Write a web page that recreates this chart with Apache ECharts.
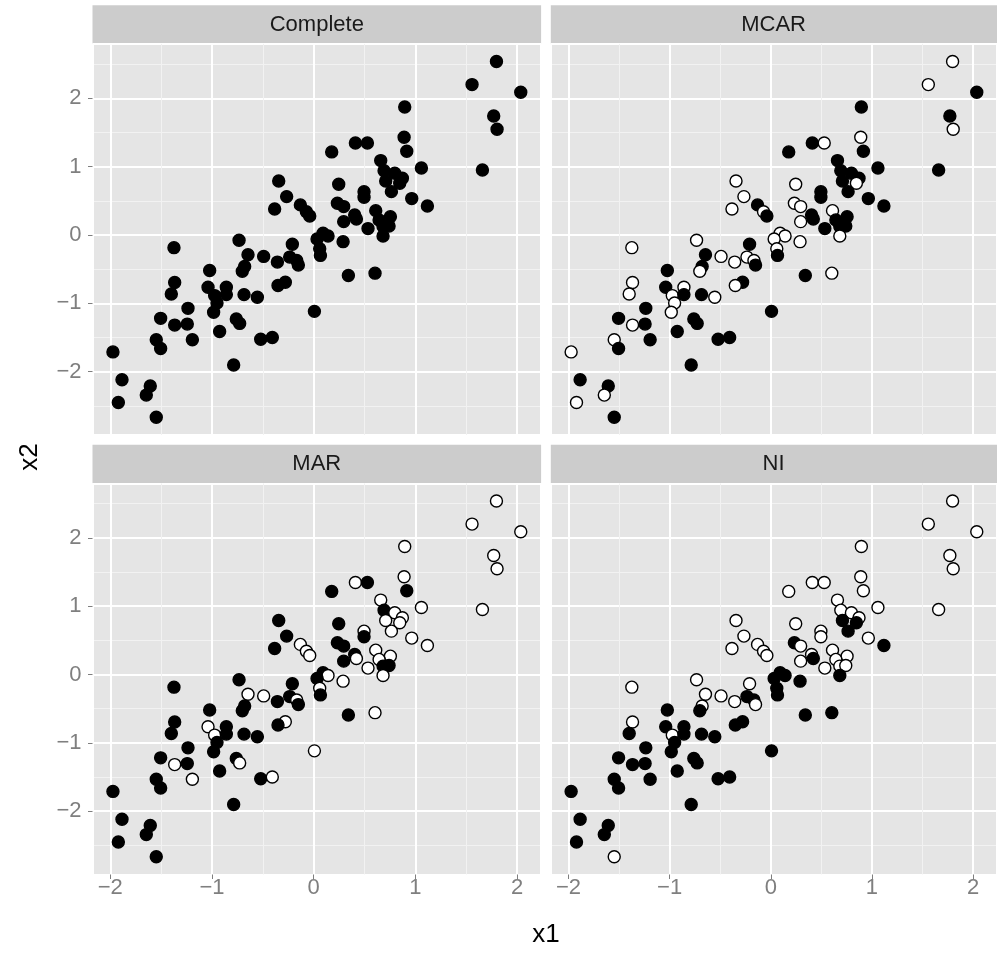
<!DOCTYPE html>
<html>
<head>
<meta charset="utf-8">
<script src="https://cdn.jsdelivr.net/npm/echarts@6/dist/echarts.min.js"></script>
<style>
  html, body { margin: 0; padding: 0; background: #fff; }
  #chart { width: 997px; height: 955px; }
</style>
</head>
<body>
<div id="chart"></div>
<script>
// same x1 / x2 sample in every panel
var x1 = [
  -0.344, -0.266, -0.384, -0.131, -0.072, -0.039,
  1.797, 1.557, 2.036, 1.770, 1.803, 1.659, 0.895, 0.889, 0.915, 1.059,
  0.410, 0.528, 0.177, 0.659, 0.692, 0.797, 0.872, 0.708, 0.846, 0.764,
  0.964, 1.118, 0.246, 0.495, 0.495, 0.233, 0.295, 0.610, 0.403, 0.420,
  0.295, 0.754, 0.643, 0.682, 0.741, 0.534, 0.682, 0.289, 0.092, 0.141, 0.033,
  0.059, 0.066, 0.341, 0.603, 0.007,
  -0.734, -1.374, -0.210, -0.646, -0.492, -0.357, -0.236, -0.167, -0.151, -0.679,
  -0.702, -1.023, -0.279, -0.351, -1.367, -1.400, -1.039, -0.859, -0.974, -0.859,
  -0.685, -0.554, -0.951, -0.984, -1.236, -1.505, -1.367, -1.243, -1.193, -0.925,
  -0.761, -0.728, -0.521, -0.407, -1.548, -1.505, -1.974, -0.787, -1.885, -1.607,
  -1.646, -1.921, -1.548
];
var x2 = [
  0.790, 0.561, 0.380, 0.440, 0.340, 0.278,
  2.537, 2.200, 2.088, 1.741, 1.546, 0.951, 1.873, 1.429, 1.224, 0.980,
  1.346, 1.346, 1.215, 1.088, 0.941, 0.902, 0.829, 0.790, 0.756, 0.634,
  0.532, 0.424, 0.741, 0.634, 0.551, 0.463, 0.415, 0.356, 0.293, 0.234,
  0.195, 0.268, 0.220, 0.122, 0.132, 0.093, -0.015, -0.098, 0.024, -0.015, -0.059,
  -0.201, -0.299, -0.593, -0.559, -1.118,
  -0.078, -0.186, -0.137, -0.289, -0.314, -0.397, -0.324, -0.373, -0.441, -0.461,
  -0.530, -0.520, -0.691, -0.740, -0.696, -0.863, -0.765, -0.765, -0.887, -0.873,
  -0.873, -0.912, -0.995, -1.132, -1.074, -1.220, -1.319, -1.304, -1.534, -1.412,
  -1.230, -1.294, -1.525, -1.500, -1.534, -1.662, -1.711, -1.902, -2.118, -2.211,
  -2.343, -2.451, -2.667
];
// 1 = missing (open circle), 0 = observed
var missMCAR = [
  1, 1, 1, 0, 1, 0,
  1, 1, 0, 0, 1, 0, 0, 1, 0, 0,
  0, 1, 0, 0, 0, 0, 0, 0, 1, 0,
  0, 0, 1, 0, 0, 1, 1, 1, 0, 0,
  1, 0, 0, 0, 0, 0, 1, 1, 1, 1, 1,
  1, 0, 0, 1, 0,
  1, 1, 0, 0, 1, 1, 1, 1, 0, 0,
  1, 0, 0, 1, 1, 1, 0, 1, 1, 0,
  0, 1, 1, 1, 0, 0, 1, 0, 0, 0,
  0, 0, 0, 0, 1, 0, 1, 0, 0, 0,
  1, 1, 0
];
var missMAR = [
  0, 0, 0, 1, 1, 1,
  1, 1, 1, 1, 1, 1, 1, 1, 0, 1,
  1, 0, 0, 1, 0, 1, 1, 1, 1, 1,
  1, 1, 0, 1, 0, 0, 0, 1, 0, 1,
  0, 1, 1, 0, 0, 1, 1, 1, 0, 1, 0,
  1, 0, 0, 1, 1,
  0, 0, 0, 1, 1, 0, 0, 1, 0, 0,
  0, 0, 1, 0, 0, 0, 1, 0, 1, 0,
  0, 0, 0, 0, 0, 0, 1, 0, 1, 0,
  0, 1, 0, 1, 0, 0, 0, 0, 0, 0,
  0, 0, 0
];
var missNI = [
  1, 1, 1, 1, 1, 1,
  1, 1, 1, 1, 1, 1, 1, 1, 1, 1,
  1, 1, 1, 1, 1, 1, 1, 0, 0, 0,
  1, 0, 1, 1, 1, 0, 1, 1, 1, 0,
  1, 1, 1, 1, 1, 1, 0, 0, 0, 0, 0,
  0, 0, 0, 0, 0,
  1, 1, 1, 1, 1, 1, 0, 0, 1, 1,
  0, 0, 0, 0, 1, 0, 0, 0, 1, 0,
  0, 0, 0, 0, 0, 0, 0, 0, 0, 0,
  0, 0, 0, 0, 0, 0, 0, 0, 0, 0,
  0, 0, 1
];
var missComplete = x1.map(function () { return 0; });

var panelNames = ['Complete', 'MCAR', 'MAR', 'NI'];
var panelMiss = [missComplete, missMCAR, missMAR, missNI];
var xRange = [-2.175, 2.236];
var yRange = [-2.927, 2.797];
var tickValues = [-2, -1, 0, 1, 2];

// panel boxes (px)
var colLeft = [92.5, 550.8];
var rowTop = [43.8, 483.3];
var panelW = 448.6;
var panelH = 391.2;
var stripH = 38.6;

var font = "'Liberation Sans', Arial, sans-serif";
var tickGrey = '#7F7F7F';

function fmt(v) {
  return v < 0 ? '\u2212' + (-v) : String(v);
}

var grids = [], xAxes = [], yAxes = [], series = [], graphics = [];

function gridAxis(i, range) {
  // hidden axis that only draws the white grid lines
  return {
    gridIndex: i, type: 'value', min: range[0], max: range[1], splitNumber: 5,
    axisLine: { show: false, onZero: false },
    axisTick: { show: false },
    axisLabel: { show: false },
    splitLine: { show: true, lineStyle: { color: '#FFFFFF', width: 2 } },
    minorTick: { show: false, splitNumber: 2 },
    minorSplitLine: { show: true, lineStyle: { color: '#F2F2F2', width: 1 } }
  };
}

for (var i = 0; i < 4; i++) {
  var col = i % 2, row = Math.floor(i / 2);
  grids.push({
    left: colLeft[col], top: rowTop[row], width: panelW, height: panelH,
    show: false, containLabel: false
  });
  xAxes.push({
    gridIndex: i, type: 'value', min: xRange[0], max: xRange[1], splitNumber: 5,
    axisLine: { show: false, onZero: false },
    axisTick: { show: row === 1, length: 4.5, customValues: tickValues, lineStyle: { color: tickGrey, width: 1 } },
    axisLabel: { show: row === 1, customValues: tickValues, formatter: fmt, color: tickGrey, fontSize: 22, fontFamily: font, margin: 2 },
    splitLine: { show: false }
  });
  yAxes.push({
    gridIndex: i, type: 'value', min: yRange[0], max: yRange[1], splitNumber: 5,
    axisLine: { show: false, onZero: false },
    axisTick: { show: col === 0, length: 4.5, customValues: tickValues, lineStyle: { color: tickGrey, width: 1 } },
    axisLabel: { show: col === 0, customValues: tickValues, formatter: fmt, color: tickGrey, fontSize: 22, fontFamily: font, margin: 11 },
    splitLine: { show: false }
  });
  var miss = panelMiss[i];
  series.push({
    type: 'scatter', xAxisIndex: i, yAxisIndex: i,
    data: x1.map(function (v, k) { return [v, x2[k], miss[k]]; }),
    symbol: 'circle', symbolSize: 12,
    itemStyle: {
      color: function (p) { return p.data[2] ? '#FFFFFF' : '#000000'; },
      borderColor: '#000000', borderWidth: 1.4, opacity: 1
    },
    emphasis: { disabled: true },
    silent: true
  });
  // panel background, under the grid lines
  graphics.push({
    type: 'rect', z: -10, silent: true,
    shape: { x: colLeft[col], y: rowTop[row], width: panelW, height: panelH },
    style: { fill: '#E5E5E5' }
  });
  // facet strip
  graphics.push({
    type: 'rect', silent: true,
    shape: { x: colLeft[col], y: rowTop[row] - stripH, width: panelW, height: stripH },
    style: { fill: '#CCCCCC' }
  });
  graphics.push({
    type: 'text', silent: true,
    x: colLeft[col] + panelW / 2 - (col === 1 ? 1.5 : 0), y: rowTop[row] - stripH / 2,
    style: { text: panelNames[i], fill: '#1A1A1A', font: '22px ' + font, textAlign: 'center', textVerticalAlign: 'middle', align: 'center', verticalAlign: 'middle' }
  });
}
for (var j = 0; j < 4; j++) {
  xAxes.push(gridAxis(j, xRange));
  yAxes.push(gridAxis(j, yRange));
}

graphics.push({
  type: 'text', x: 546, y: 935, silent: true,
  style: { text: 'x1', fill: '#000', font: '26px ' + font, textAlign: 'center', textVerticalAlign: 'middle', align: 'center', verticalAlign: 'middle' }
});
graphics.push({
  type: 'text', x: 30, y: 457, rotation: Math.PI / 2, silent: true,
  style: { text: 'x2', fill: '#000', font: '26px ' + font, textAlign: 'center', textVerticalAlign: 'middle', align: 'center', verticalAlign: 'middle' }
});

var chart = echarts.init(document.getElementById('chart'), null, { renderer: 'canvas' });
chart.setOption({
  animation: false,
  backgroundColor: '#FFFFFF',
  grid: grids,
  xAxis: xAxes,
  yAxis: yAxes,
  series: series,
  graphic: graphics
});
</script>
</body>
</html>
